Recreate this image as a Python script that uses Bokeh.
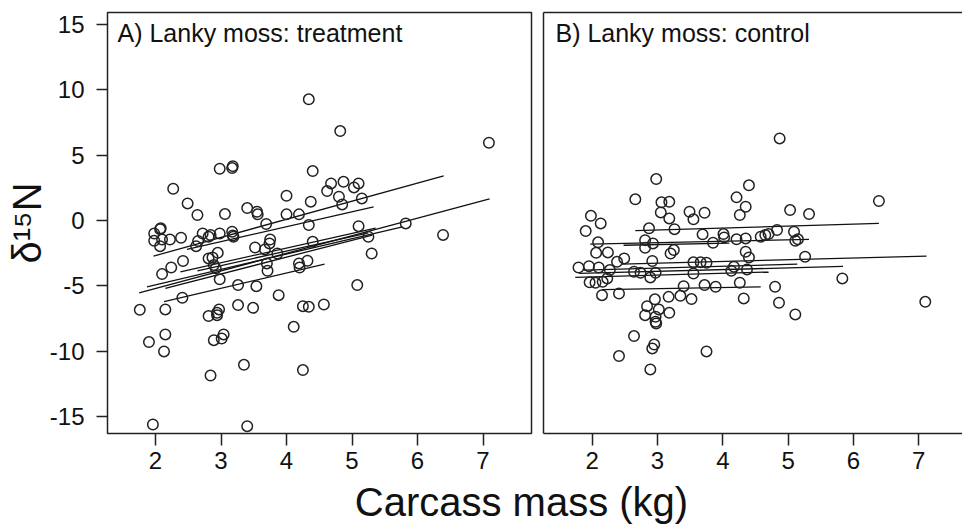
from bokeh.plotting import figure
from bokeh.layouts import column, row
from bokeh.models import Label, LinearAxis, FixedTicker, PrintfTickFormatter
from bokeh.embed import file_html
from bokeh.resources import INLINE

# ---------------- data ----------------
a_mass = [4.34, 4.82, 7.09, 2.98, 3.17, 3.18, 4.40, 4.68, 4.87, 5.10, 5.03, 4.62, 4.80, 5.15, 4.85,
          2.27, 2.49, 2.64, 3.06, 3.40, 3.55, 3.56, 4.00, 4.37, 4.00, 4.19, 3.69, 4.34, 2.07, 1.98,
          1.98, 2.10, 2.07, 2.22, 2.39, 2.72, 2.65, 2.62, 2.81, 2.98, 3.17, 3.18, 3.19, 3.75, 3.74,
          3.52, 3.67, 3.86, 4.40, 5.10, 5.25, 5.30, 2.95, 2.81, 2.87, 2.89, 2.92, 2.42, 2.24, 2.10,
          2.98, 3.70, 3.71, 4.19, 4.20, 4.32, 3.26, 3.54, 3.88, 5.08, 2.41, 1.76, 2.15, 2.81, 2.94,
          2.97, 2.94, 3.26, 3.49, 4.25, 4.34, 4.57, 4.11, 1.90, 2.15, 2.13, 3.04, 2.89, 3.01, 2.84,
          3.35, 4.25, 1.96, 3.40, 6.39, 5.82, 2.08, 2.84]
a_d15n = [9.26, 6.83, 5.94, 3.95, 4.00, 4.15, 3.77, 2.83, 2.95, 2.83, 2.52, 2.24, 1.81, 1.68, 1.22,
          2.42, 1.30, 0.41, 0.48, 0.94, 0.66, 0.46, 1.88, 1.43, 0.46, 0.46, -0.28, -0.36, -0.67, -1.00,
          -1.56, -1.46, -1.97, -1.46, -1.33, -1.00, -1.58, -1.97, -1.25, -1.00, -0.87, -1.15, -1.25, -1.46, -1.76,
          -2.07, -2.22, -2.53, -1.64, -0.44, -1.25, -2.53, -2.48, -2.91, -2.83, -3.42, -3.67, -3.11, -3.60, -4.11,
          -4.51, -3.29, -3.85, -3.29, -3.60, -3.09, -4.95, -5.03, -5.72, -4.95, -5.92, -6.84, -6.81, -7.32, -7.07,
          -6.81, -7.25, -6.48, -6.69, -6.56, -6.61, -6.43, -8.14, -9.31, -8.72, -10.02, -8.72, -9.16, -9.03, -11.86,
          -11.05, -11.45, -15.61, -15.74, -1.11, -0.23, -0.61, -1.12]

a_line_x0 = [1.97, 2.48, 1.75, 1.87, 2.15, 2.38, 2.64, 2.13]
a_line_y0 = [-2.73, -2.22, -5.54, -5.08, -5.20, -3.93, -3.86, -6.22]
a_line_x1 = [6.40, 5.33, 7.10, 5.77, 5.31, 5.36, 5.25, 4.58]
a_line_y1 = [3.41, 1.04, 1.65, -0.49, -1.12, -0.60, -0.95, -3.34]

b_mass = [2.98, 4.40, 2.66, 3.06, 3.18, 4.21, 4.35, 5.03, 5.32, 3.05, 3.49, 3.72, 3.55, 3.18, 4.26,
          1.98, 2.13, 1.90, 2.87, 3.26, 2.09, 2.81, 2.93, 2.81, 3.69, 4.01, 4.02, 3.85, 4.21, 4.35,
          4.58, 4.65, 4.70, 4.83, 5.09, 5.11, 5.15, 2.06, 2.24, 1.95, 1.79, 2.10, 2.27, 2.38, 2.49,
          2.92, 3.20, 3.25, 2.64, 2.74, 2.97, 2.89, 3.55, 3.66, 3.75, 3.55, 4.17, 4.13, 4.37, 4.40,
          4.35, 5.26, 1.96, 2.05, 2.16, 2.23, 2.15, 2.41, 3.17, 3.35, 3.40, 3.52, 3.72, 3.89, 4.26,
          4.32, 4.80, 4.86, 5.11, 2.96, 2.84, 3.02, 2.81, 2.97, 2.97, 2.98, 3.18, 2.64, 2.95, 2.92,
          2.41, 3.75, 2.89, 5.83, 7.10, 4.87, 6.39]
b_d15n = [3.16, 2.68, 1.61, 1.38, 1.42, 1.76, 1.04, 0.79, 0.48, 0.61, 0.66, 0.58, 0.08, 0.15, 0.41,
          0.35, -0.23, -0.82, -0.61, -0.67, -1.68, -1.51, -1.76, -2.09, -1.07, -1.05, -1.30, -1.71, -1.45, -1.38,
          -1.25, -1.12, -1.05, -0.74, -0.87, -1.56, -1.45, -2.48, -2.45, -3.50, -3.60, -3.60, -3.80, -3.17, -2.91,
          -3.11, -2.53, -2.27, -3.93, -4.01, -4.01, -4.36, -3.21, -3.21, -3.24, -4.06, -3.55, -3.85, -3.75, -2.83,
          -2.40, -2.78, -4.74, -4.77, -4.70, -4.44, -5.72, -5.59, -5.85, -5.77, -5.03, -6.02, -4.95, -5.08, -4.77,
          -5.97, -5.08, -6.30, -7.19, -6.04, -6.56, -6.81, -7.25, -7.37, -7.76, -7.88, -7.07, -8.85, -9.49, -9.79,
          -10.38, -10.02, -11.40, -4.44, -6.23, 6.27, 1.48]

b_line_x0 = [2.66, 1.97, 2.48, 2.45, 1.87, 1.80, 1.74, 2.15]
b_line_y0 = [-0.79, -1.81, -1.90, -3.35, -3.80, -4.05, -4.36, -5.30]
b_line_x1 = [6.39, 5.32, 4.10, 7.12, 5.14, 5.84, 4.70, 4.58]
b_line_y1 = [-0.23, -1.45, -1.74, -2.73, -3.35, -3.52, -3.95, -5.08]

x_ticks = [2, 3, 4, 5, 6, 7]
y_ticks = [-15, -10, -5, 0, 5, 10, 15]
titles = ["A) Lanky moss: treatment", "B) Lanky moss: control"]
x_label = "Carcass mass (kg)"
y_label = "δ¹⁵N"

# ---------------- style ----------------
FONT = "Liberation Sans"
INK = "#222222"
TXT = "#111111"
Y_RANGE = (-16.3, 15.9)
XA_RANGE = (1.267, 7.74)
XB_RANGE = (1.254, 7.67)
TOP, FRAME_H, BOTTOM = 12, 421, 46
LEFT = 107
PX_PER_X = 424 / (XA_RANGE[1] - XA_RANGE[0])
TITLE_Y = 14.35


def style_xaxis(ax):
    ax.ticker = FixedTicker(ticks=x_ticks)
    ax.major_tick_out = 12
    ax.major_tick_in = 0
    ax.minor_tick_line_color = None
    ax.major_tick_line_color = INK
    ax.major_tick_line_width = 1.5
    ax.major_label_text_font = FONT
    ax.major_label_text_font_size = "24px"
    ax.major_label_text_color = TXT
    ax.major_label_standoff = 6


def make_panel(xr, width, left, right):
    p = figure(width=width, height=TOP + FRAME_H + BOTTOM, x_range=xr, y_range=Y_RANGE,
               output_backend="svg", toolbar_location=None,
               min_border_left=left, min_border_right=right,
               min_border_top=TOP, min_border_bottom=BOTTOM,
               background_fill_color="white", border_fill_color="white")
    p.grid.visible = False
    return p


# Panel A
pA = make_panel(XA_RANGE, 537, LEFT, 6)
pA.outline_line_color = INK
pA.outline_line_width = 1.5
style_xaxis(pA.xaxis[0])
pA.xaxis.axis_line_color = None
ya = pA.yaxis[0]
ya.ticker = FixedTicker(ticks=y_ticks)
ya.formatter = PrintfTickFormatter(format="%d")
ya.axis_line_color = None
ya.major_tick_out = 11
ya.major_tick_in = 0
ya.minor_tick_line_color = None
ya.major_tick_line_color = INK
ya.major_tick_line_width = 1.5
ya.major_label_text_font = FONT
ya.major_label_text_font_size = "24px"
ya.major_label_text_color = TXT
ya.major_label_standoff = 12
ya.axis_label = y_label
ya.axis_label_text_font = FONT
ya.axis_label_text_font_size = "40px"
ya.axis_label_text_font_style = "normal"
ya.axis_label_text_color = TXT
ya.axis_label_standoff = -2

pA.segment(x0=a_line_x0, y0=a_line_y0, x1=a_line_x1, y1=a_line_y1,
           line_color=TXT, line_width=1.3)
pA.scatter(a_mass, a_d15n, marker="circle", size=10.5, fill_color=None,
           line_color=INK, line_width=1.5)
pA.add_layout(Label(x=XA_RANGE[0] + 10 / PX_PER_X, y=TITLE_Y, text=titles[0], text_font=FONT,
                    text_font_size="25px", text_color=TXT,
                    text_baseline="alphabetic"))

# Panel B
pB = make_panel(XB_RANGE, 425, 6, 0)
pB.outline_line_color = None
style_xaxis(pB.xaxis[0])
pB.xaxis.axis_line_color = INK
pB.xaxis.axis_line_width = 1.5
yb = pB.yaxis[0]
yb.ticker = FixedTicker(ticks=[])
yb.axis_line_color = INK
yb.axis_line_width = 1.5
yb.major_tick_out = 0
yb.major_tick_in = 0
yb.minor_tick_line_color = None
yb.major_label_standoff = 0
top_ax = LinearAxis(ticker=FixedTicker(ticks=[]), axis_line_color=INK, axis_line_width=1.5,
                    major_tick_out=0, major_tick_in=0, minor_tick_line_color=None,
                    major_label_standoff=0)
pB.add_layout(top_ax, "above")

pB.segment(x0=b_line_x0, y0=b_line_y0, x1=b_line_x1, y1=b_line_y1,
           line_color=TXT, line_width=1.3)
pB.scatter(b_mass, b_d15n, marker="circle", size=10.5, fill_color=None,
           line_color=INK, line_width=1.5)
pB.add_layout(Label(x=XB_RANGE[0] + 12 / PX_PER_X, y=TITLE_Y, text=titles[1], text_font=FONT,
                    text_font_size="25px", text_color=TXT,
                    text_baseline="alphabetic"))

# shared x label
LH = 524 - (TOP + FRAME_H + BOTTOM)
pL = figure(width=962, height=LH, x_range=(0, 962), y_range=(0, LH),
            output_backend="svg", toolbar_location=None, min_border=0,
            outline_line_color=None, background_fill_color="white",
            border_fill_color="white")
pL.axis.visible = False
pL.grid.visible = False
pL.add_layout(Label(x=521, y=23, text=x_label, text_font=FONT,
                    text_font_size="40px", text_color=TXT,
                    text_align="center", text_baseline="middle"))

layout = column(row(pA, pB, spacing=0), pL, spacing=0)
open("out.html", "w").write(file_html(layout, INLINE))
